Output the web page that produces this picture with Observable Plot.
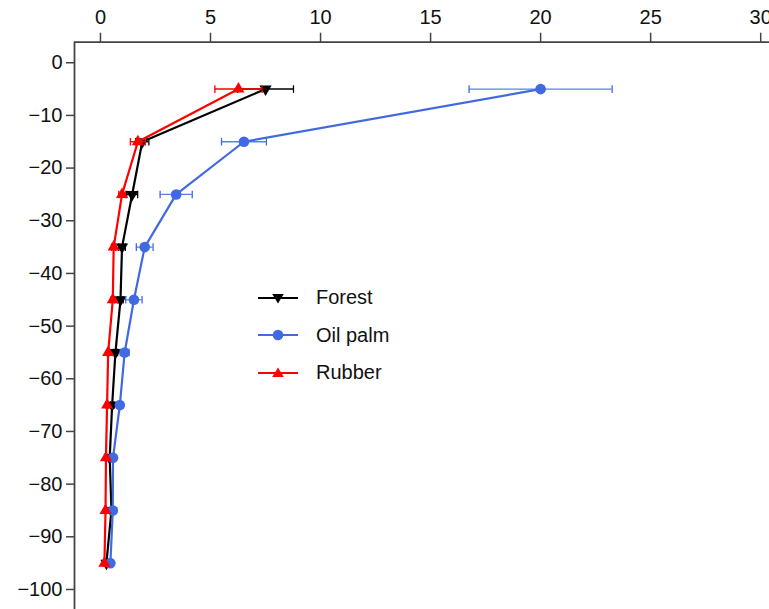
<!DOCTYPE html>
<html>
<head>
<meta charset="utf-8">
<script src="https://cdn.jsdelivr.net/npm/d3@7"></script>
<script src="https://cdn.jsdelivr.net/npm/@observablehq/plot@0.6"></script>
<style>
  html, body { margin: 0; padding: 0; background: #fff; overflow: hidden; }
  #wrap { position: relative; width: 769px; height: 609px; font-family: "Liberation Sans", Arial, sans-serif; }
  #legend { position: absolute; left: 256px; top: 279px; font-size: 20px; color: #111; }
  #legend .row { display: flex; align-items: center; height: 37.5px; }
  #legend svg { margin-right: 16px; }
</style>
</head>
<body>
<div id="wrap"><div id="legend"></div></div>
<script>
// ---- data ----
const depths     = [-5, -15, -25, -35, -45, -55, -65, -75, -85, -95];
const forest     = [7.5, 1.9, 1.44, 0.98, 0.91, 0.68, 0.53, 0.42, 0.5, 0.27];
const forestErr  = [1.27, 0.3, 0.25, 0.15, 0.12, 0.1, 0.08, 0.06, 0.05, 0.05];
const oilPalm    = [20.0, 6.52, 3.44, 2.01, 1.52, 1.1, 0.88, 0.57, 0.56, 0.45];
const oilPalmErr = [3.25, 1.02, 0.73, 0.38, 0.37, 0.2, 0.15, 0.08, 0.06, 0.06];
const rubber     = [6.27, 1.7, 0.98, 0.6, 0.56, 0.35, 0.3, 0.25, 0.23, 0.18];
const rubberErr  = [1.07, 0.34, 0.15, 0.1, 0.08, 0.06, 0.05, 0.04, 0.03, 0.03];
const xTicks = [0, 5, 10, 15, 20, 25, 30];
const yTicks = [0, -10, -20, -30, -40, -50, -60, -70, -80, -90, -100];
const seriesNames = ["Forest", "Oil palm", "Rubber"];
const xDomain = [-1.18, 30.4];
const yDomain = [-103.8, 3.9];

const colors = {"Forest": "#000000", "Oil palm": "#4169E1", "Rubber": "#FF0000"};

const triangleDown = {
  draw(ctx, size) {
    const y = -Math.sqrt(size / (Math.sqrt(3) * 3));
    ctx.moveTo(0, -2 * y);
    ctx.lineTo(-Math.sqrt(3) * y, y);
    ctx.lineTo(Math.sqrt(3) * y, y);
    ctx.closePath();
  }
};
const capSymbol = {
  draw(ctx, size) {
    const r = Math.sqrt(size / Math.PI);
    ctx.moveTo(0, -r);
    ctx.lineTo(0, r);
  }
};
const symbols = {"Forest": triangleDown, "Oil palm": "circle", "Rubber": "triangle"};
const radii = {"Forest": 4.5, "Oil palm": 5.3, "Rubber": 4.5};

function rows(name, vals, errs) {
  return depths.map((d, i) => ({series: name, depth: d, value: vals[i], lo: vals[i] - errs[i], hi: vals[i] + errs[i]}));
}
const data = [
  rows("Forest", forest, forestErr),
  rows("Oil palm", oilPalm, oilPalmErr),
  rows("Rubber", rubber, rubberErr)
];

const marks = [];
for (const s of data) {
  const name = s[0].series;
  const c = colors[name];
  marks.push(Plot.ruleY(s, {y: "depth", x1: "lo", x2: "hi", stroke: c, strokeWidth: name === "Oil palm" ? 1.3 : 1.5, strokeOpacity: name === "Oil palm" ? 0.85 : 1}));
  marks.push(Plot.dot(s, {x: "lo", y: "depth", symbol: capSymbol, r: 3.8, stroke: c, strokeWidth: 1.3, fill: "none"}));
  marks.push(Plot.dot(s, {x: "hi", y: "depth", symbol: capSymbol, r: 3.8, stroke: c, strokeWidth: 1.3, fill: "none"}));
  marks.push(Plot.line(s, {x: "value", y: "depth", stroke: c, strokeWidth: 2.2}));
  marks.push(Plot.dot(s, {x: "value", y: "depth", symbol: symbols[name], r: radii[name], fill: c, stroke: "none"}));
}

const chart = Plot.plot({
  width: 769,
  height: 609,
  marginLeft: 74,
  marginRight: 0,
  marginTop: 41.7,
  marginBottom: 0,
  style: {fontFamily: '"Liberation Sans", Arial, sans-serif', fontSize: "20px", color: "#111", background: "#fff", overflow: "hidden"},
  x: {domain: xDomain, range: [74, 769]},
  y: {domain: yDomain},
  marks: [
    Plot.axisX({anchor: "top", ticks: xTicks, tickSize: 10, tickPadding: 8, label: null, stroke: "#444", strokeWidth: 1.5, fontSize: 20}),
    Plot.axisY({anchor: "left", ticks: yTicks, tickSize: 8, tickPadding: 4, label: null, stroke: "#444", strokeWidth: 1.5, fontSize: 20}),
    Plot.ruleX([xDomain[0]], {stroke: "#444", strokeWidth: 1.8}),
    Plot.ruleY([yDomain[1]], {stroke: "#444", strokeWidth: 1.8}),
    ...marks
  ]
});
document.getElementById("wrap").prepend(chart);

// ---- legend ----
const legend = document.getElementById("legend");
const legendSvgSym = {
  "Forest": '<path d="M14,14.5 L8.2,5 L19.8,5 Z" fill="#000"/>',
  "Oil palm": '<circle cx="14" cy="9" r="5.3" fill="#4169E1"/>',
  "Rubber": '<path d="M14,3.5 L19.8,13 L8.2,13 Z" fill="#FF0000"/>'
};
for (const name of seriesNames) {
  const row = document.createElement("div");
  row.className = "row";
  row.innerHTML = `<svg width="44" height="18" viewBox="-8 0 44 18"><line x1="-6" y1="9" x2="34" y2="9" stroke="${colors[name]}" stroke-width="2"/>${legendSvgSym[name]}</svg><span>${name}</span>`;
  legend.appendChild(row);
}
</script>
</body>
</html>
